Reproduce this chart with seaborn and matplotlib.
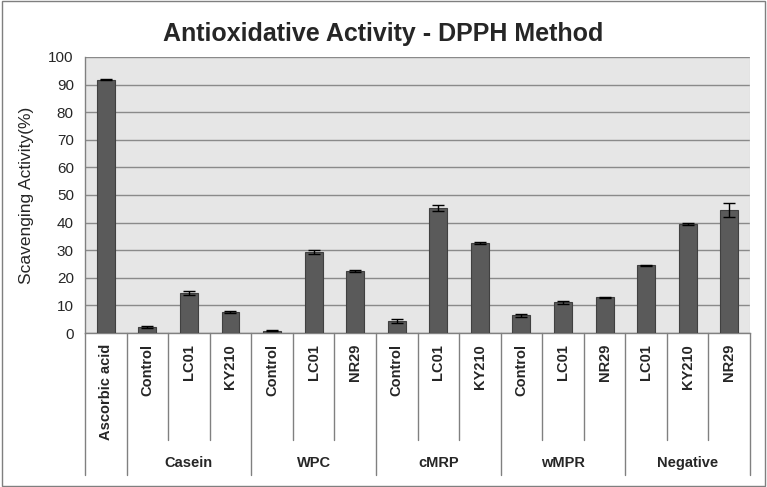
import matplotlib
matplotlib.use('Agg')
import matplotlib.pyplot as plt
import matplotlib.transforms as mtransforms
import seaborn as sns
import pandas as pd
import numpy as np

# data
groups = ['', 'Casein', 'Casein', 'Casein', 'WPC', 'WPC', 'WPC',
          'cMRP', 'cMRP', 'cMRP', 'wMPR', 'wMPR', 'wMPR',
          'Negative', 'Negative', 'Negative']
samples = ['Ascorbic acid', 'Control', 'LC01', 'KY210', 'Control', 'LC01', 'NR29',
           'Control', 'LC01', 'KY210', 'Control', 'LC01', 'NR29',
           'LC01', 'KY210', 'NR29']
activity = [91.7, 2.3, 14.5, 7.6, 0.9, 29.4, 22.5,
            4.3, 45.2, 32.5, 6.4, 11.1, 12.9,
            24.5, 39.5, 44.6]
errors = [0.2, 0.4, 0.7, 0.2, 0.2, 0.6, 0.5,
          0.8, 1.0, 0.3, 0.5, 0.6, 0.3,
          0.3, 0.2, 2.5]
group_names = ['Casein', 'WPC', 'cMRP', 'wMPR', 'Negative']

df = pd.DataFrame({'group': groups, 'sample': samples,
                   'activity': activity, 'err': errors})
df['key'] = df['group'] + '|' + df['sample']

sns.set_style('white')
plt.rcParams['font.family'] = ['Liberation Sans', 'DejaVu Sans']

fig = plt.figure(figsize=(7.67, 4.87), dpi=100)
ax = fig.add_axes([0.1108, 0.3162, 0.8671, 0.5668])
ax.set_facecolor('#e6e6e6')

sns.barplot(data=df, x='key', y='activity', order=list(df['key']),
            color='#5a5a5a', width=0.43, saturation=1, edgecolor='#404040',
            linewidth=0.8, errorbar=None, ax=ax, zorder=3)
ax.errorbar(np.arange(len(df)), df['activity'], yerr=df['err'], fmt='none',
            ecolor='black', elinewidth=1, capsize=4, capthick=1, zorder=4)

ax.set_ylim(0, 100)
ax.set_xlim(-0.5, len(df) - 0.5)
ax.set_yticks(range(0, 101, 10))
ax.yaxis.grid(True, color='#8a8a8a', linewidth=1)
ax.set_axisbelow(True)
ax.tick_params(axis='y', labelsize=11, length=4, width=1, color='#808080', pad=4)
ax.set_xticks(np.arange(len(df)))
ax.set_xticklabels(samples, rotation=90, fontsize=10.5, fontweight='bold', va='top')
ax.tick_params(axis='x', length=0, pad=8)
ax.set_xlabel('')
ax.set_ylabel('Scavenging Activity(%)', fontsize=12.5, labelpad=10)

for s in ['top', 'right']:
    ax.spines[s].set_visible(False)
for s in ['left', 'bottom']:
    ax.spines[s].set_color('#808080')
    ax.spines[s].set_linewidth(1)
ax.plot([1, 1], [0, 1], transform=ax.transAxes, color='#d8d8d8', lw=1, zorder=1)

# category separators below the axis
trans = mtransforms.blended_transform_factory(ax.transData, ax.transAxes)
group_edges = [-0.5, 0.5, 3.5, 6.5, 9.5, 12.5, 15.5]
for b in np.arange(-0.5, len(df), 1.0):
    low = -0.514 if b in group_edges else -0.388
    ax.plot([b, b], [0, low], transform=trans, color='#808080', lw=1, clip_on=False)
for i, g in enumerate(group_names):
    mid = (group_edges[i + 1] + group_edges[i + 2]) / 2
    ax.text(mid, -0.47, g, transform=trans, ha='center', va='center',
            fontsize=10.5, fontweight='bold')

fig.suptitle('Antioxidative Activity - DPPH Method', fontsize=18, fontweight='bold',
             y=0.955)

fig.patches.append(plt.Rectangle((0.002, 0.003), 0.996, 0.994, transform=fig.transFigure,
                                 fill=False, edgecolor='#7f7f7f', lw=1))

fig.savefig('out.png', dpi=100)
